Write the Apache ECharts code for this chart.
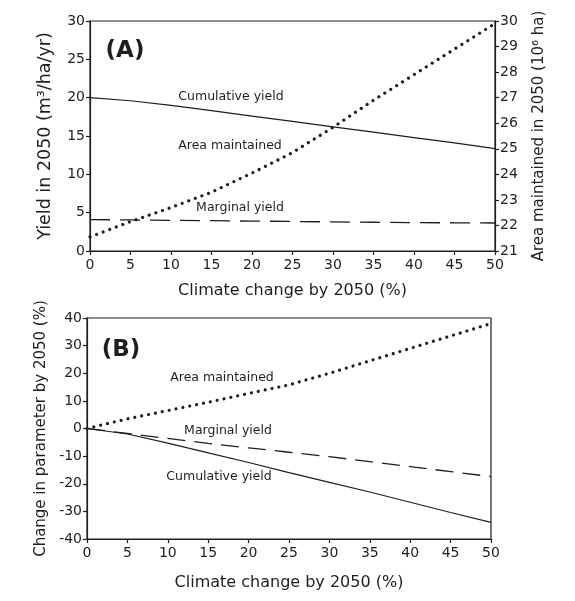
<!DOCTYPE html>
<html>
<head>
<meta charset="utf-8">
<script src="https://cdn.jsdelivr.net/npm/echarts@6/dist/echarts.min.js"></script>
<style>
  html, body { margin: 0; padding: 0; background: #fff; }
  #main { width: 575px; height: 601px; }
</style>
</head>
<body>
<div id="main"></div>
<script>
// climate change (%) on the x axis of both panels
const climateChange = [0, 5, 10, 15, 20, 25, 30, 35, 40, 45, 50];

// panel A
const cumYieldA = [20.0, 19.6, 19.0, 18.3, 17.6, 16.9, 16.2, 15.5, 14.8, 14.1, 13.35];
const margYieldA = [4.1, 4.05, 4.0, 3.95, 3.9, 3.85, 3.8, 3.75, 3.7, 3.68, 3.65];
const areaA = [21.55, 22.15, 22.7, 23.3, 24.05, 24.85, 25.84, 26.9, 27.9, 28.9, 29.9];

// panel B
const areaB = [0, 3.5, 6.5, 9.5, 12.7, 15.8, 20, 24.5, 29, 33.5, 38];
const margYieldB = [0, -1.8, -3.6, -5.4, -7.0, -8.6, -10.2, -12, -13.8, -15.6, -17.4];
const cumYieldB = [0, -2, -5.3, -8.8, -12.3, -16, -19.5, -23, -26.7, -30.4, -34];

const ink = '#1e1e1e';
const font = 'DejaVu Sans';

const pairs = (ys) => climateChange.map((x, i) => [x, ys[i]]);

const axisBase = {
    axisLine: { show: true, onZero: false, lineStyle: { color: ink, width: 1.2 } },
    axisTick: { show: true, length: 4, lineStyle: { color: ink, width: 1.2 } },
    axisLabel: { color: ink, fontFamily: font, fontSize: 14, margin: 5 },
    splitLine: { show: false },
    nameTextStyle: { color: ink, fontFamily: font, fontSize: 15 },
    nameLocation: 'middle'
};

const xAxisOf = (gridIndex, gap) => Object.assign({}, axisBase, {
    type: 'value', gridIndex: gridIndex, min: 0, max: 50, interval: 5,
    name: 'Climate change by 2050 (%)', nameGap: gap,
    axisLabel: Object.assign({}, axisBase.axisLabel, { margin: 7 }),
    nameTextStyle: Object.assign({}, axisBase.nameTextStyle, { fontSize: 16 })
});

const dotted = { color: ink, width: 3.2, type: [0.01, 7], cap: 'round' };
const dashed = { color: ink, width: 1.3, type: [20, 10] };
const solid = { color: ink, width: 1.2 };

const lineSeries = (xi, yi, ys, style) => ({
    type: 'line', xAxisIndex: xi, yAxisIndex: yi, data: pairs(ys),
    showSymbol: false, silent: true, lineStyle: style
});

const label = (x, y, text, size, weight) => ({
    type: 'text', x: x, y: y,
    style: {
        text: text, fill: ink, fontFamily: font, fontSize: size || 12.5,
        fontWeight: weight || 'normal', align: 'center', verticalAlign: 'middle'
    }
});

var dom = document.getElementById('main');
var myChart = echarts.init(dom, null, { renderer: 'canvas' });
var option = {
    backgroundColor: '#fff',
    animation: false,
    grid: [
        { left: 90, right: 80, top: 21, height: 230, show: true, borderColor: ink, borderWidth: 1.2 },
        { left: 87, right: 84, top: 318, height: 221, show: true, borderColor: ink, borderWidth: 1.2 }
    ],
    xAxis: [xAxisOf(0, 32), xAxisOf(1, 36)],
    yAxis: [
        Object.assign({}, axisBase, {
            type: 'value', gridIndex: 0, min: 0, max: 30, interval: 5,
            name: 'Yield in 2050 (m³/ha/yr)', nameGap: 36,
            nameTextStyle: Object.assign({}, axisBase.nameTextStyle, { fontSize: 17.5 })
        }),
        Object.assign({}, axisBase, {
            type: 'value', gridIndex: 0, position: 'right', min: 21, max: 30, interval: 1,
            name: 'Area maintained in 2050 (10⁶ ha)', nameGap: 37
        }),
        Object.assign({}, axisBase, {
            type: 'value', gridIndex: 1, min: -40, max: 40, interval: 10,
            name: 'Change in parameter by 2050 (%)', nameGap: 37
        })
    ],
    series: [
        lineSeries(0, 0, cumYieldA, solid),
        lineSeries(0, 0, margYieldA, dashed),
        lineSeries(0, 1, areaA, dotted),
        lineSeries(1, 2, areaB, dotted),
        lineSeries(1, 2, margYieldB, Object.assign({}, dashed, { type: [18, 9] })),
        lineSeries(1, 2, cumYieldB, solid)
    ],
    graphic: [
        label(125, 51, '(A)', 23, 'bold'),
        label(231, 97, 'Cumulative yield'),
        label(230, 146, 'Area maintained'),
        label(240, 208, 'Marginal yield'),
        label(121, 350, '(B)', 23, 'bold'),
        label(222, 378, 'Area maintained'),
        label(228, 431, 'Marginal yield'),
        label(219, 477, 'Cumulative yield')
    ]
};
if (option && typeof option === 'object') {
    myChart.setOption(option);
}
window.addEventListener('resize', myChart.resize);
</script>
</body>
</html>
